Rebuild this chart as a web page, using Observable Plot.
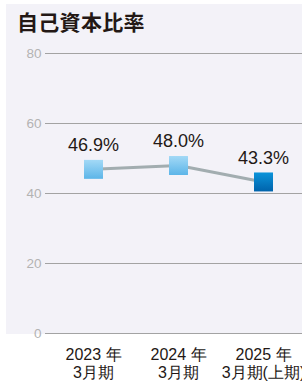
<!DOCTYPE html>
<html>
<head>
<meta charset="utf-8">
<script src="https://cdn.jsdelivr.net/npm/d3@7"></script>
<script src="https://cdn.jsdelivr.net/npm/@observablehq/plot@0.6"></script>
<style>
  html, body { margin: 0; padding: 0; background: #ffffff; }
  #wrap { position: relative; width: 302px; height: 382px; overflow: hidden; }
  #bg { position: absolute; left: 6px; top: 4px; width: 296px; height: 330px; background: #f3f2f8; }
  #title { position: absolute; left: 17px; top: 7px; font-family: "Noto Sans CJK JP", sans-serif; font-weight: 700; font-size: 21px; color: #231815; line-height: 28px; letter-spacing: 0.3px; }
  #chart { position: absolute; left: 0; top: 0; }
</style>
</head>
<body>
<div id="wrap">
  <div id="bg"></div>
  <div id="title">自己資本比率</div>
  <div id="chart"></div>
</div>
<script>
const categories = ["2023年3月期", "2024年3月期", "2025年3月期(上期)"];
const yearLabels = ["2023 年", "2024 年", "2025 年"];
const periodLabels = ["3月期", "3月期", "3月期(上期)"];
const values = [46.9, 48.0, 43.3];
const valueLabels = ["46.9%", "48.0%", "43.3%"];
const fills = ["url(#gLight)", "url(#gLight)", "url(#gDark)"];
const yTicks = [0, 20, 40, 60, 80];

const data = categories.map((c, i) => ({cat: c, value: values[i], label: valueLabels[i], fill: fills[i]}));
const tickText = new Map(categories.map((c, i) => [c, yearLabels[i] + "\n" + periodLabels[i]]));

const font = "'Liberation Sans', Arial, sans-serif";

const chart = Plot.plot({
  width: 302,
  height: 382,
  marginLeft: 45,
  marginRight: 0,
  marginTop: 53,
  marginBottom: 49,
  style: {background: "transparent", fontFamily: font, overflow: "visible"},
  x: {type: "point", domain: categories, range: [92, 263], padding: 0},
  y: {domain: [0, 80], ticks: yTicks},
  marks: [
    Plot.ruleY(yTicks, {stroke: "#a3a3a3", strokeWidth: 1, strokeOpacity: 1}),
    Plot.axisY({ticks: yTicks, tickSize: 0, tickPadding: 4, fontSize: 13.5, fill: "#b3b3b3", label: null}),
    Plot.axisX({tickSize: 0, tickPadding: 14, fontSize: 16, fill: "#231815", label: null, lineHeight: 1.12,
      tickFormat: d => tickText.get(d)}),
    Plot.line(data, {x: "cat", y: "value", stroke: "#a2adb0", strokeWidth: 3}),
    Plot.dot(data, {x: "cat", y: "value", symbol: "square", r: 10.7, fill: "fill", stroke: null}),
    Plot.text(data, {x: "cat", y: "value", text: "label", dy: -24, fontSize: 18, fill: "#231815"})
  ]
});

const ns = "http://www.w3.org/2000/svg";
const defs = document.createElementNS(ns, "defs");
function grad(id, top, bottom) {
  const g = document.createElementNS(ns, "linearGradient");
  g.setAttribute("id", id);
  g.setAttribute("x1", "0"); g.setAttribute("y1", "0");
  g.setAttribute("x2", "0"); g.setAttribute("y2", "1");
  [[0, top], [1, bottom]].forEach(([o, c]) => {
    const s = document.createElementNS(ns, "stop");
    s.setAttribute("offset", o);
    s.setAttribute("stop-color", c);
    g.appendChild(s);
  });
  defs.appendChild(g);
}
grad("gLight", "#a3d9f6", "#5cb5e8");
grad("gDark", "#0b94da", "#0063ab");
chart.insertBefore(defs, chart.firstChild);

document.getElementById("chart").appendChild(chart);
</script>
</body>
</html>
